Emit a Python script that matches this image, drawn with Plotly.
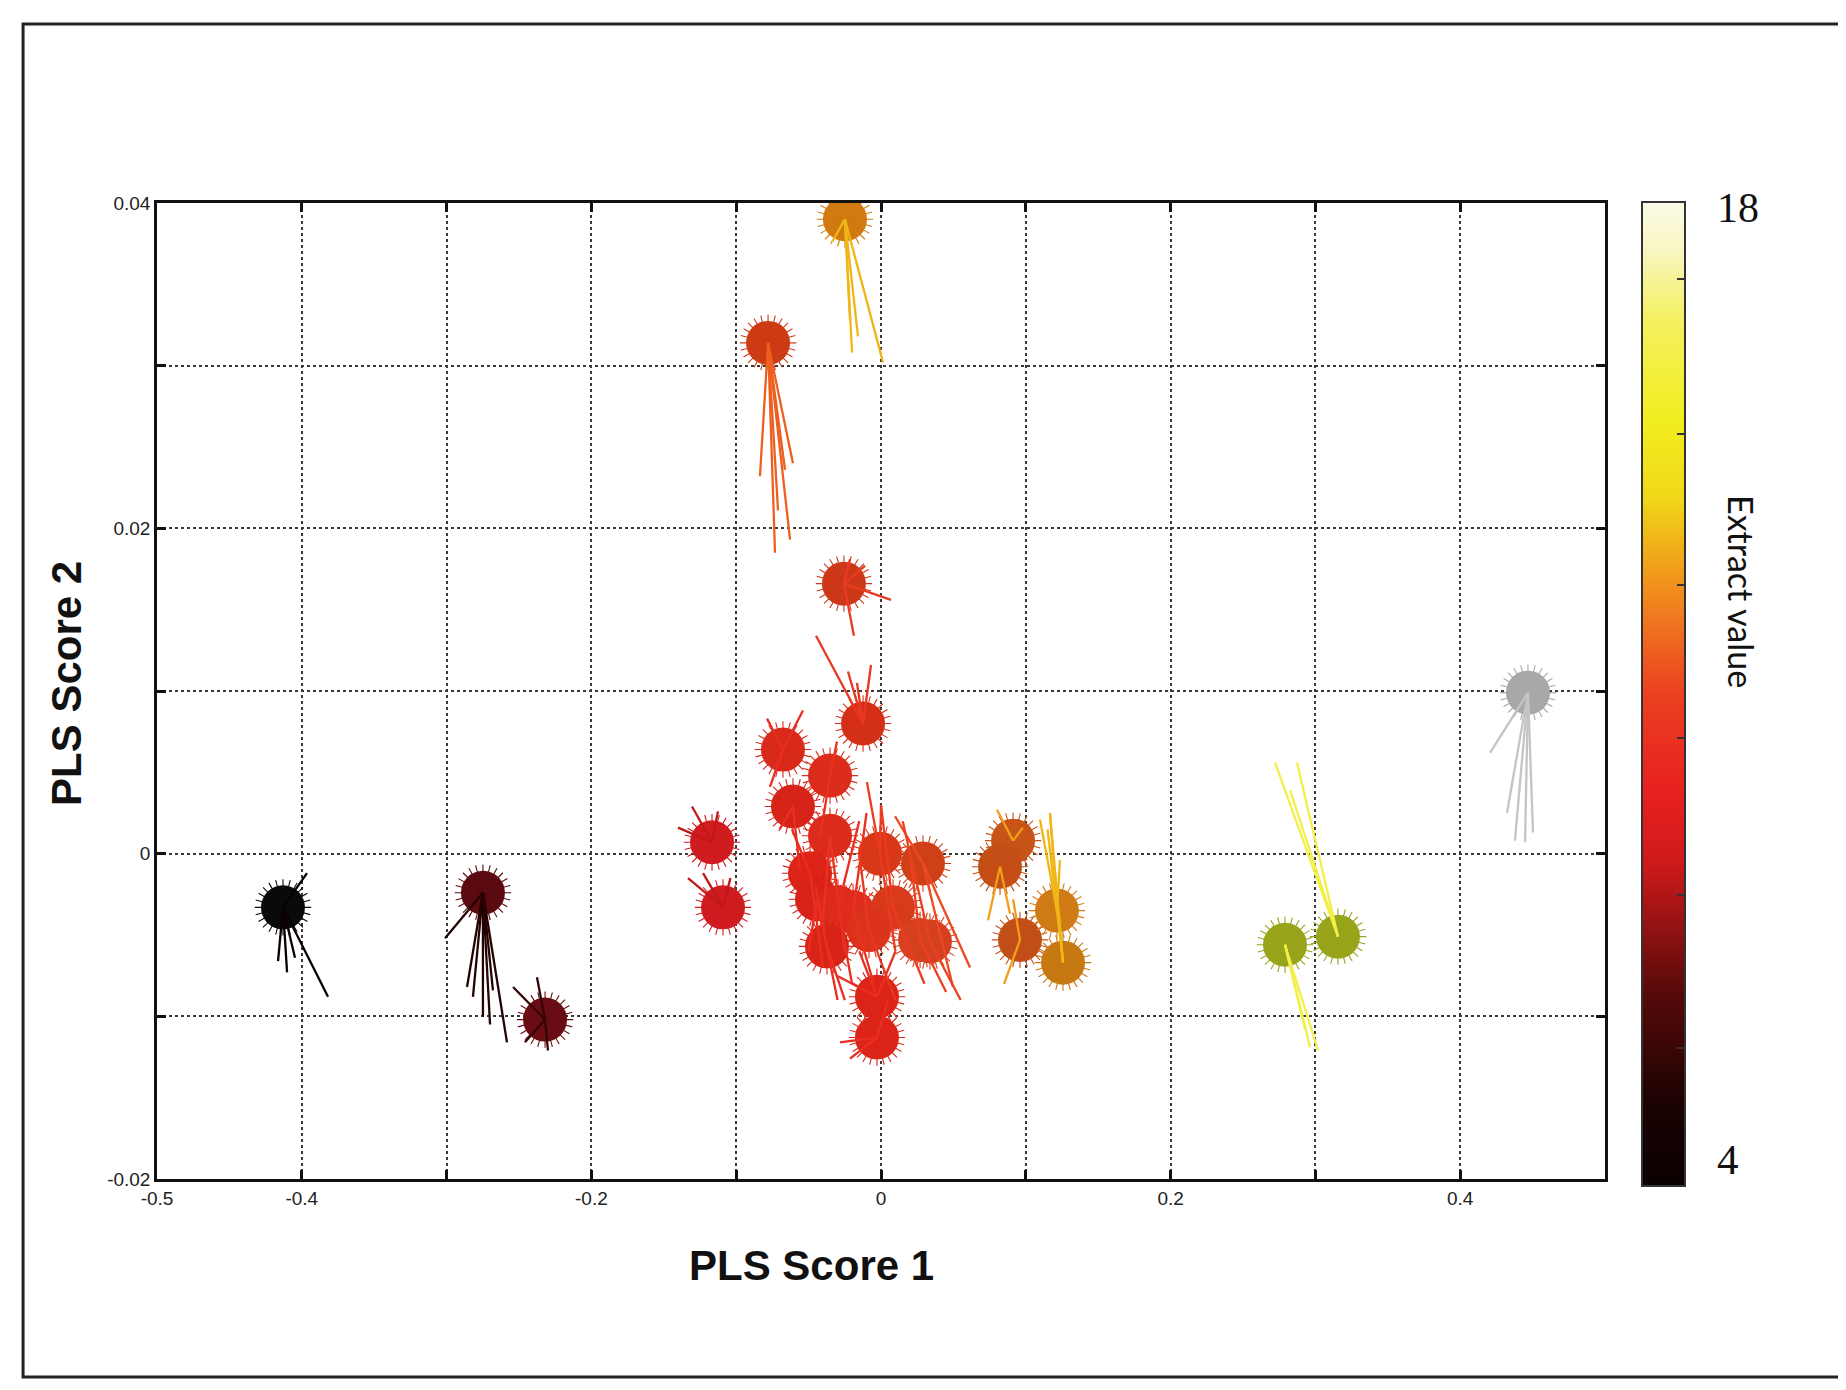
import plotly.graph_objects as go

# ---------------- data ----------------
# sample centres (PLS score 1, PLS score 2) and extract value (None = off-scale / grey)
pt_x = [-0.413, -0.2749, -0.232, -0.1167, -0.1091, -0.078, -0.0249, -0.0256, -0.0124,
        -0.0677, -0.0352, -0.0608, -0.0352, -0.049, -0.0442, -0.0007, 0.029, -0.0297,
        -0.0193, 0.0083, -0.0083, -0.0373, 0.027, 0.0338, -0.0028, -0.0028,
        0.0912, 0.0822, 0.096, 0.1215, 0.1257, 0.279, 0.3156, 0.4468]
pt_y = [-0.0033, -0.0024, -0.0102, 0.0007, -0.0033, 0.0314, 0.039, 0.0166, 0.0080,
        0.0064, 0.0048, 0.0029, 0.0011, -0.0012, -0.0028, 0.0000, -0.0006, -0.0033,
        -0.0036, -0.0033, -0.0047, -0.0057, -0.0053, -0.0054, -0.0088, -0.0113,
        0.0008, -0.0008, -0.0053, -0.0035, -0.0067, -0.0056, -0.0051, 0.0099]
pt_value = [4.0, 5.4, 5.8, 8.4, 8.4, 11.6, 13.2, 10.8, 10.6,
            10.2, 10.4, 10.2, 10.4, 10.2, 10.2, 10.8, 11.2, 10.2,
            10.4, 10.8, 10.6, 10.2, 11.0, 11.0, 10.2, 10.2,
            12.8, 12.8, 12.8, 13.2, 13.2, 15.8, 15.8, None]

# replicate trajectories: (sample index, end score 1, end score 2)
tail_src = [0, 0, 0, 0, 0,
            1, 1, 1, 1, 1, 1, 1,
            2, 2, 2, 2,
            3, 3, 3,
            4, 4, 4,
            5, 5, 5, 5, 5, 5,
            6, 6, 6, 6, 6,
            7, 7, 7, 7,
            8, 8, 8, 8,
            9, 9, 9,
            10, 10,
            11, 11,
            12, 12,
            13, 13,
            14, 14,
            15, 15, 15,
            16, 16, 16,
            17, 17,
            18, 18,
            19, 19,
            20, 20,
            21, 21,
            22, 22,
            23, 23,
            24, 24, 24,
            25, 25, 25,
            26, 26,
            27, 27,
            28, 28,
            29, 29, 29,
            30, 30, 30,
            31, 31, 31,
            32, 32, 32,
            33, 33, 33, 33, 33]
tail_x = [-0.4102, -0.4047, -0.3819, -0.3964, -0.4164,
          -0.3011, -0.2749, -0.2583, -0.2859, -0.2818, -0.2680, -0.2700,
          -0.2541, -0.2376, -0.2300, -0.2459,
          -0.1305, -0.1402, -0.1126,
          -0.1333, -0.1229, -0.1040,
          -0.0836, -0.0732, -0.0628, -0.0608, -0.0663, -0.0711,
          -0.0200, 0.0014, -0.0159, -0.0338, -0.0214,
          -0.0187, 0.0069, -0.0214, -0.0110,
          -0.0449, -0.0228, -0.0069, -0.0166,
          -0.0787, -0.0539, -0.0767,
          -0.0304, -0.0420,
          -0.0700, -0.0560,
          -0.0400, -0.0250,
          -0.0615, -0.0400,
          -0.0300, -0.0500,
          -0.0097, 0.0100, 0.0000,
          0.0097, 0.0615, 0.0497,
          -0.0200, -0.0150,
          -0.0100, -0.0050,
          0.0300, 0.0000,
          0.0100, -0.0150,
          -0.0450, -0.0250,
          0.0450, 0.0200,
          0.0550, 0.0150,
          -0.0304, -0.0150, 0.0100,
          -0.0283, -0.0214, 0.0050,
          0.0801, 0.0980,
          0.0739, 0.0891,
          0.0912, 0.0850,
          0.1167, 0.1098, 0.1236,
          0.1167, 0.1200, 0.1150,
          0.3018, 0.2963, 0.2928,
          0.2721, 0.2873, 0.2825,
          0.4206, 0.4378, 0.4448, 0.4503, 0.4323]
tail_y = [-0.0073, -0.0064, -0.0088, -0.0012, -0.0066,
          -0.0052, -0.0100, -0.0116, -0.0082, -0.0088, -0.0084, -0.0105,
          -0.0082, -0.0076, -0.0121, -0.0116,
          0.0029, 0.0016, 0.0026,
          -0.0015, -0.0012, -0.0015,
          0.0232, 0.0185, 0.0193, 0.0240, 0.0236, 0.0211,
          0.0308, 0.0302, 0.0318, 0.0376, 0.0328,
          0.0134, 0.0156, 0.0181, 0.0177,
          0.0134, 0.0112, 0.0116, 0.0105,
          0.0083, 0.0088, 0.0041,
          0.0069, 0.0010,
          0.0015, -0.0010,
          -0.0040, -0.0060,
          0.0015, -0.0070,
          -0.0090, -0.0060,
          0.0044, -0.0060, 0.0030,
          0.0023, -0.0070, -0.0082,
          -0.0080, 0.0020,
          0.0025, -0.0080,
          -0.0080, 0.0030,
          -0.0090, 0.0000,
          -0.0020, -0.0090,
          -0.0085, 0.0000,
          -0.0090, 0.0020,
          -0.0075, -0.0060, -0.0060,
          -0.0116, -0.0126, -0.0090,
          0.0027, 0.0016,
          -0.0041, -0.0037,
          -0.0028, -0.0080,
          0.0025, 0.0021, -0.0004,
          0.0025, -0.0010, 0.0015,
          -0.0121, -0.0119, -0.0108,
          0.0056, 0.0056, 0.0039,
          0.0062, 0.0008, 0.0007, 0.0013, 0.0025]

x_tickvals = [-0.5, -0.4, -0.3, -0.2, -0.1, 0.0, 0.1, 0.2, 0.3, 0.4, 0.5]
x_ticktext = ["-0.5", "-0.4", "", "-0.2", "", "0", "", "0.2", "", "0.4", ""]
y_tickvals = [-0.02, -0.01, 0.0, 0.01, 0.02, 0.03, 0.04]
y_ticktext = ["-0.02", "", "0", "", "0.02", "", "0.04"]
cbar_min, cbar_max = 4, 18
cbar_tickvals = [5.96, 8.14, 10.37, 12.55, 14.7, 16.9]

# ---------------- styles ----------------
marker_colors = ["#0a0a0a", "#5a0a10", "#6a0c14", "#d01c20", "#d01c20", "#cc3c14", "#d07a10",
                 "#cc3818", "#d43018",
                 "#d82a1a", "#dc2c1c", "#d62418", "#dc2c1c", "#dc2418", "#d82218", "#d83818",
                 "#d04018", "#dc2a1a", "#e02c1c", "#d83a1c", "#dc341c", "#d82418", "#d84020",
                 "#d44020", "#dc2418", "#dc2418",
                 "#c85418", "#c44e16", "#c24e18", "#d07c16", "#c67812",
                 "#98a41a", "#98a41a", "#a8a8a8"]
grey_line = "#c4c4c4"
cs_stops = [(0.0, "#0a0000"), (0.08, "#1a0202"), (0.2, "#5a0a0a"), (0.33, "#d01a1a"),
            (0.4, "#e82020"), (0.5, "#ea4020"), (0.58, "#f07a20"), (0.64, "#f0a818"),
            (0.7, "#f0d818"), (0.78, "#f2ee20"), (0.88, "#f4f060"), (0.95, "#f8f6c0"),
            (1.0, "#fbfbe8")]


def hex2rgb(h):
    h = h.lstrip("#")
    return tuple(int(h[i:i + 2], 16) for i in (0, 2, 4))


def cs_color(v):
    if v is None:
        return grey_line
    f = (v - cbar_min) / (cbar_max - cbar_min)
    f = min(max(f, 0.0), 1.0)
    for (f0, c0), (f1, c1) in zip(cs_stops[:-1], cs_stops[1:]):
        if f0 <= f <= f1:
            t = (f - f0) / (f1 - f0) if f1 > f0 else 0
            a, b = hex2rgb(c0), hex2rgb(c1)
            r = [round(a[i] + (b[i] - a[i]) * t) for i in range(3)]
            return "rgb(%d,%d,%d)" % tuple(r)
    return cs_stops[-1][1]


fig = go.Figure()

# markers (circle + short fringed rim)
n = len(pt_x)
for i in range(n):
    col = marker_colors[i]
    fig.add_trace(go.Scatter(x=[pt_x[i]], y=[pt_y[i]], mode="markers", showlegend=False,
                             hoverinfo="skip",
                             marker=dict(symbol="circle", size=44, color=col,
                                         line=dict(width=0))))
    for ang in (0, 15, 30):
        fig.add_trace(go.Scatter(x=[pt_x[i]], y=[pt_y[i]], mode="markers", showlegend=False,
                                 hoverinfo="skip",
                                 marker=dict(symbol="asterisk-open", size=47, angle=ang,
                                             color=col, line=dict(width=1.1, color=col))))

# trajectories drawn from each centre
for i in range(n):
    xs, ys = [], []
    for s, ex, ey in zip(tail_src, tail_x, tail_y):
        if s == i:
            xs += [pt_x[i], ex, None]
            ys += [pt_y[i], ey, None]
    if xs:
        fig.add_trace(go.Scatter(x=xs, y=ys, mode="lines", showlegend=False, hoverinfo="skip",
                                 line=dict(color=cs_color(pt_value[i]), width=2.3)))

# colour bar
fig.add_trace(go.Scatter(
    x=[None], y=[None], mode="markers", showlegend=False, hoverinfo="skip",
    marker=dict(color=[cbar_min], cmin=cbar_min, cmax=cbar_max,
                colorscale=[[f, c] for f, c in cs_stops], showscale=True,
                colorbar=dict(x=1.0255, xanchor="left", y=0.497, yanchor="middle",
                              len=1.008, lenmode="fraction", thickness=43,
                              thicknessmode="pixels", outlinewidth=2, outlinecolor="#333",
                              tickvals=cbar_tickvals, ticks="inside", ticklen=9,
                              tickwidth=1.5, tickcolor="#333", showticklabels=False,
                              xpad=0, ypad=0))))

axis_common = dict(showline=True, linecolor="#111", linewidth=2.5, mirror="ticks",
                   ticks="inside", ticklen=9, tickwidth=2.5, tickcolor="#111",
                   showgrid=True, gridcolor="#3a3a3a", gridwidth=1.8, griddash="dot",
                   zeroline=False,
                   tickfont=dict(family="Liberation Sans, Arial", size=19, color="#222"))

fig.update_layout(
    width=1838, height=1382,
    margin=dict(l=149, r=241, t=195, b=211),
    paper_bgcolor="white", plot_bgcolor="white",
    xaxis=dict(range=[-0.5, 0.5], tickmode="array", tickvals=x_tickvals,
               ticktext=x_ticktext, **axis_common),
    yaxis=dict(range=[-0.02, 0.04], tickmode="array", tickvals=y_tickvals,
               ticktext=y_ticktext, **axis_common),
    shapes=[dict(type="rect", xref="paper", yref="paper", x0=-0.0925, x1=1.17,
                 y0=-0.2029, y1=1.1834, line=dict(color="#222", width=3))],
    annotations=[
        dict(text="<b>PLS Score 1</b>", xref="paper", yref="paper", x=0.4523, y=-0.0891,
             showarrow=False, font=dict(family="Liberation Sans, Arial", size=42, color="#111"),
             xanchor="center", yanchor="middle"),
        dict(text="<b>PLS Score 2</b>", xref="paper", yref="paper", x=-0.0622, y=0.5082,
             showarrow=False, textangle=-90,
             font=dict(family="Liberation Sans, Arial", size=42, color="#111"),
             xanchor="center", yanchor="middle"),
        dict(text="Extract value", xref="paper", yref="paper", x=1.0946, y=0.6014,
             showarrow=False, textangle=90,
             font=dict(family="Lato, Open Sans", size=34, color="#111"),
             xanchor="center", yanchor="middle"),
        dict(text="18", xref="paper", yref="paper", x=1.076, y=0.9949, showarrow=False,
             font=dict(family="Liberation Serif, DejaVu Serif", size=42, color="#111"),
             xanchor="left", yanchor="middle"),
        dict(text="4", xref="paper", yref="paper", x=1.076, y=0.0195, showarrow=False,
             font=dict(family="Liberation Serif, DejaVu Serif", size=43, color="#111"),
             xanchor="left", yanchor="middle"),
    ],
)

fig.write_html("out.html")
